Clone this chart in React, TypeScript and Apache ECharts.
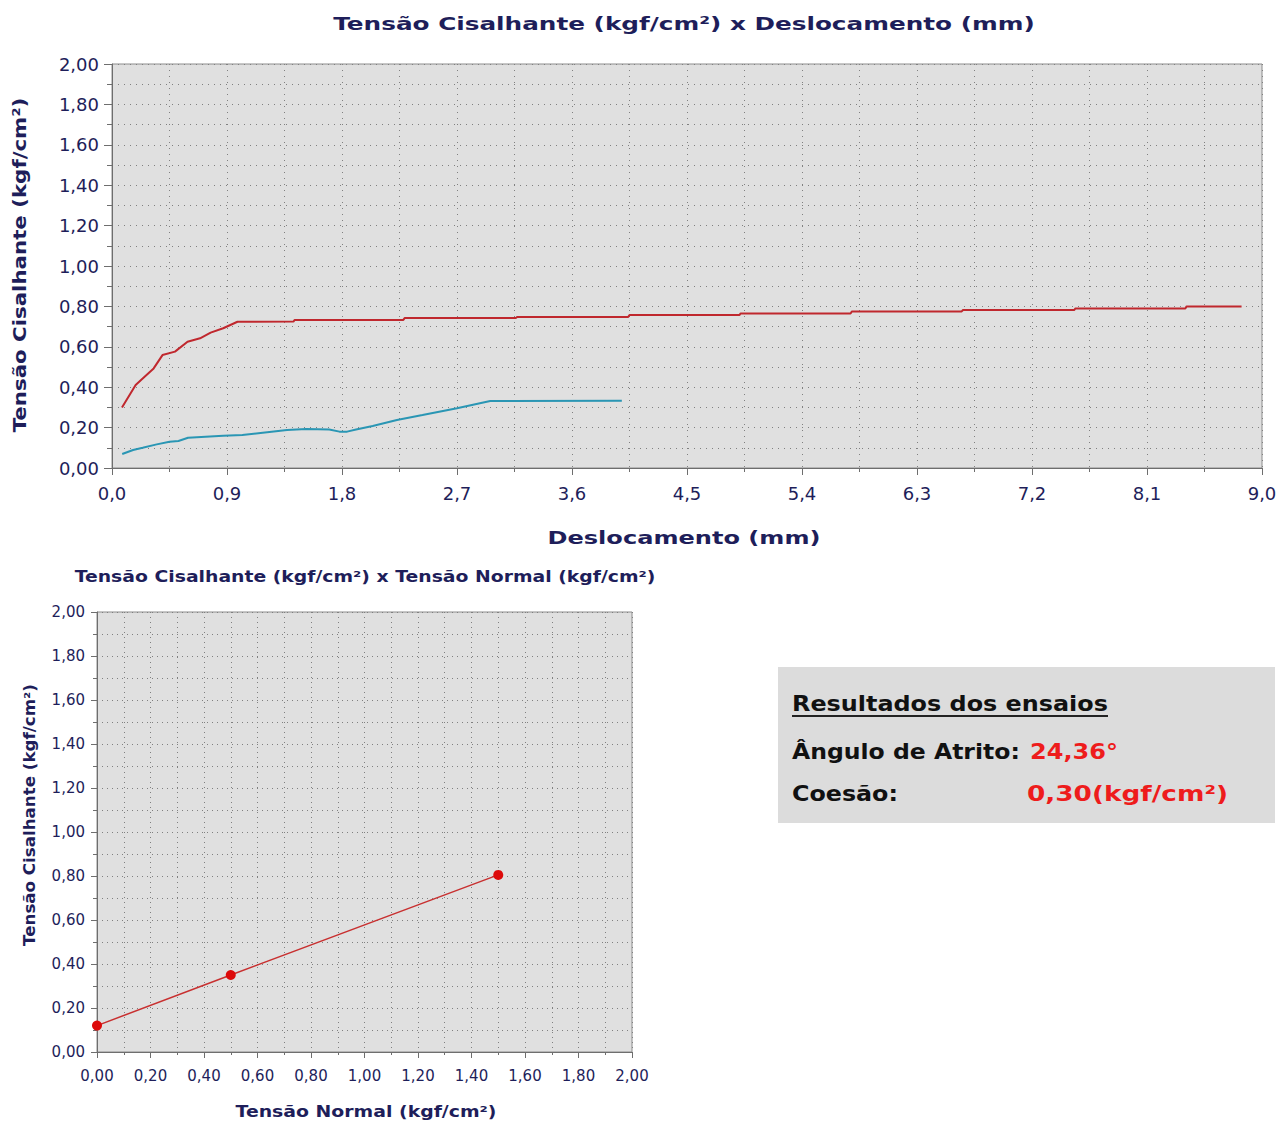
import React, { useEffect, useRef } from "react";
import * as echarts from "echarts";

// ---- data ----
const redDisplacement = [0.078, 0.185, 0.255, 0.326, 0.395, 0.493, 0.591, 0.689, 0.772, 0.87, 0.982, 1.42, 1.43, 2.28, 2.29, 3.16, 3.17, 4.04, 4.05, 4.91, 4.92, 5.78, 5.79, 6.65, 6.66, 7.53, 7.54, 8.4, 8.41, 8.84];
const redShear = [0.299, 0.411, 0.452, 0.493, 0.559, 0.576, 0.625, 0.642, 0.67, 0.692, 0.724, 0.725, 0.733, 0.733, 0.742, 0.742, 0.748, 0.748, 0.757, 0.757, 0.765, 0.765, 0.775, 0.775, 0.782, 0.782, 0.79, 0.79, 0.8, 0.8];

const blueDisplacement = [0.08, 0.165, 0.24, 0.35, 0.45, 0.52, 0.595, 0.87, 1.02, 1.18, 1.37, 1.52, 1.7, 1.78, 1.84, 1.91, 2.04, 2.23, 2.43, 2.7, 2.96, 3.99];
const blueShear = [0.069, 0.089, 0.1, 0.117, 0.13, 0.134, 0.15, 0.16, 0.163, 0.175, 0.188, 0.193, 0.191, 0.18, 0.18, 0.191, 0.208, 0.238, 0.262, 0.296, 0.332, 0.333];

const normalStress = [0, 0.5, 1.5];
const peakShear = [0.12, 0.35, 0.805];

const titleTop = "Tensão Cisalhante (kgf/cm²) x Deslocamento (mm)";
const yNameTop = "Tensão Cisalhante (kgf/cm²)";
const xNameTop = "Deslocamento (mm)";
const titleBottom = "Tensão Cisalhante (kgf/cm²) x Tensão Normal (kgf/cm²)";
const yNameBottom = "Tensão Cisalhante (kgf/cm²)";
const xNameBottom = "Tensão Normal (kgf/cm²)";
const resultsTitle = "Resultados dos ensaios";
const frictionLabel = "Ângulo de Atrito:";
const frictionValue = "24,36°";
const cohesionLabel = "Coesão:";
const cohesionValue = "0,30(kgf/cm²)";

const NAVY = "#1e1e5a";
const FONT = "DejaVu Sans";

function measure(text: string, size: number, weight: string) {
  const ctx = document.createElement("canvas").getContext("2d");
  if (!ctx) return text.length * size * 0.6;
  ctx.font = `${weight} ${size}px "${FONT}"`;
  return ctx.measureText(text).width;
}

function fitText(o: { text: string; x: number; y: number; width: number; size: number; fill: string; align?: string; rotation?: number; weight?: string }) {
  const weight = o.weight || "bold";
  const w = measure(o.text, o.size, weight);
  return {
    type: "text",
    x: o.x,
    y: o.y,
    rotation: o.rotation || 0,
    scaleX: o.width / w,
    style: {
      text: o.text,
      fontSize: o.size,
      fontFamily: FONT,
      fontWeight: weight,
      fill: o.fill,
      align: o.align || "center",
      verticalAlign: "middle",
    },
  };
}

function pairs(xs: number[], ys: number[]) {
  return xs.map((x, i) => [x, ys[i]]);
}

const gridLine = { show: true, lineStyle: { color: "#808080", type: [1, 5], width: 1 } };
const gridLineSmall = { show: true, lineStyle: { color: "#808080", type: [1, 4], width: 1 } };
const axisColor = "#6e6e6e";

export default function App() {
  const ref = useRef<HTMLDivElement>(null);
  useEffect(() => {
    document.body.style.margin = "0";
    if (!ref.current) return;
    const chart = echarts.init(ref.current, null, { renderer: "svg" });
    const fmt1 = (v: number) => v.toFixed(1).replace(".", ",");
    const fmt2 = (v: number) => v.toFixed(2).replace(".", ",");
    const option: any = {
      animation: false,
      backgroundColor: "#ffffff",
      grid: [
        { left: 112, top: 64, width: 1150, height: 404, show: true, backgroundColor: "#e0e0e0", borderColor: "#8c8c8c", borderWidth: 1 },
        { left: 97, top: 612, width: 535, height: 440, show: true, backgroundColor: "#e0e0e0", borderColor: "#8c8c8c", borderWidth: 1 },
      ],
      xAxis: [
        {
          gridIndex: 0, type: "value", min: 0, max: 9, interval: 0.9,
          axisLine: { show: true, lineStyle: { color: axisColor } },
          axisTick: { show: true, length: 7, lineStyle: { color: axisColor } },
          minorTick: { show: true, splitNumber: 2, length: 4, lineStyle: { color: axisColor } },
          splitLine: gridLine, minorSplitLine: gridLine,
          axisLabel: { formatter: fmt1, fontSize: 18, fontFamily: FONT, color: NAVY, margin: 16 },
        },
        {
          gridIndex: 1, type: "value", min: 0, max: 2, interval: 0.2,
          axisLine: { show: true, lineStyle: { color: axisColor } },
          axisTick: { show: true, length: 6, lineStyle: { color: axisColor } },
          minorTick: { show: true, splitNumber: 2, length: 3, lineStyle: { color: axisColor } },
          splitLine: gridLineSmall, minorSplitLine: gridLineSmall,
          axisLabel: { formatter: fmt2, fontSize: 15, fontFamily: FONT, color: NAVY, margin: 16 },
        },
      ],
      yAxis: [
        {
          gridIndex: 0, type: "value", min: 0, max: 2, interval: 0.2,
          axisLine: { show: true, lineStyle: { color: axisColor } },
          axisTick: { show: true, length: 8, lineStyle: { color: axisColor } },
          minorTick: { show: true, splitNumber: 2, length: 5, lineStyle: { color: axisColor } },
          splitLine: gridLine, minorSplitLine: gridLine,
          axisLabel: { formatter: fmt2, fontSize: 18, fontFamily: FONT, color: NAVY, margin: 13 },
        },
        {
          gridIndex: 1, type: "value", min: 0, max: 2, interval: 0.2,
          axisLine: { show: true, lineStyle: { color: axisColor } },
          axisTick: { show: true, length: 6, lineStyle: { color: axisColor } },
          minorTick: { show: true, splitNumber: 2, length: 4, lineStyle: { color: axisColor } },
          splitLine: gridLineSmall, minorSplitLine: gridLineSmall,
          axisLabel: { formatter: fmt2, fontSize: 15, fontFamily: FONT, color: NAVY, margin: 12 },
        },
      ],
      series: [
        {
          type: "line", xAxisIndex: 0, yAxisIndex: 0, data: pairs(redDisplacement, redShear),
          showSymbol: false, symbol: "none", lineStyle: { color: "#c0282e", width: 2 },
        },
        {
          type: "line", xAxisIndex: 0, yAxisIndex: 0, data: pairs(blueDisplacement, blueShear),
          showSymbol: false, symbol: "none", lineStyle: { color: "#2a96b4", width: 2 },
        },
        {
          type: "line", xAxisIndex: 1, yAxisIndex: 1, data: pairs(normalStress, peakShear),
          symbol: "circle", symbolSize: 10, itemStyle: { color: "#dd0a0a" },
          lineStyle: { color: "#c83030", width: 1.5 },
        },
      ],
      graphic: [
        fitText({ text: titleTop, x: 684, y: 24, width: 702, size: 18, fill: NAVY }),
        fitText({ text: yNameTop, x: 20, y: 265, width: 335, size: 18, fill: NAVY, rotation: Math.PI / 2 }),
        fitText({ text: xNameTop, x: 684, y: 538, width: 273, size: 18, fill: NAVY }),
        fitText({ text: titleBottom, x: 365, y: 577, width: 581, size: 16, fill: NAVY }),
        fitText({ text: yNameBottom, x: 30, y: 815, width: 262, size: 15, fill: NAVY, rotation: Math.PI / 2 }),
        fitText({ text: xNameBottom, x: 366, y: 1112, width: 261, size: 16, fill: NAVY }),
        { type: "rect", shape: { x: 778, y: 667, width: 497, height: 156 }, style: { fill: "#dcdcdc" } },
        fitText({ text: resultsTitle, x: 792, y: 703, width: 316, size: 22, fill: "#111111", align: "left" }),
        { type: "line", shape: { x1: 792, y1: 716, x2: 1108, y2: 716 }, style: { stroke: "#222222", lineWidth: 2 } },
        fitText({ text: frictionLabel, x: 792, y: 751, width: 228, size: 22, fill: "#111111", align: "left" }),
        fitText({ text: frictionValue, x: 1030, y: 751, width: 88, size: 22, fill: "#ee1c1c", align: "left" }),
        fitText({ text: cohesionLabel, x: 792, y: 793, width: 106, size: 22, fill: "#111111", align: "left" }),
        fitText({ text: cohesionValue, x: 1027, y: 793, width: 201, size: 22, fill: "#ee1c1c", align: "left" }),
      ],
    };
    chart.setOption(option);
    return () => chart.dispose();
  }, []);
  return <div ref={ref} style={{ position: "absolute", left: 0, top: 0, width: 1280, height: 1122 }} />;
}
